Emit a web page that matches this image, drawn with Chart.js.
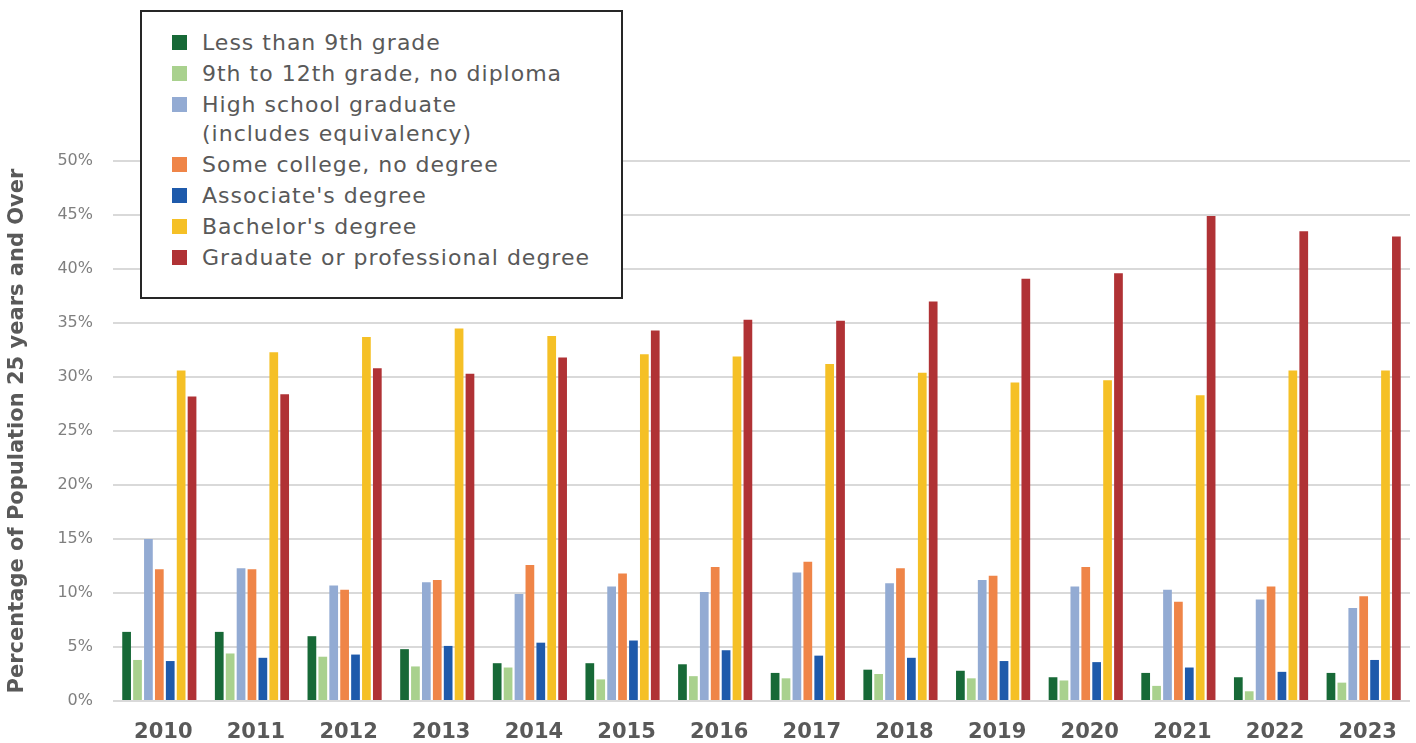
<!DOCTYPE html>
<html>
<head>
<meta charset="utf-8">
<script src="https://cdn.jsdelivr.net/npm/chart.js@4.4.1/dist/chart.umd.min.js"></script>
<style>
    body { margin: 0; background: #fff; }
    #wrap { position: relative; width: 1416px; height: 743px; }
    #legend {
        position: absolute; left: 140px; top: 10px; width: 479px; height: 285px;
        border: 2px solid #262626; background: #fff;
        font-family: "DejaVu Sans", sans-serif; font-size: 22px; letter-spacing: 1px; color: #595959;
        box-sizing: content-box;
    }
    #legend ul { list-style: none; margin: 0; padding: 16px 0 0 30px; }
    #legend li { display: flex; align-items: flex-start; line-height: 29px; margin-bottom: 2px; white-space: pre-line; }
    #legend .sw { width: 15px; height: 15px; margin: 7px 15px 0 0; flex: none; }
</style>
</head>
<body>
<div id="wrap">
    <canvas id="eduChart"></canvas>
    <div id="legend"><ul></ul></div>
</div>
<script>
// Data
const years = ['2010', '2011', '2012', '2013', '2014', '2015', '2016', '2017', '2018', '2019', '2020', '2021', '2022', '2023'];
const lessThan9th = [6.4, 6.4, 6.0, 4.8, 3.5, 3.5, 3.4, 2.6, 2.9, 2.8, 2.2, 2.6, 2.2, 2.6];
const grade9to12 = [3.8, 4.4, 4.1, 3.2, 3.1, 2.0, 2.3, 2.1, 2.5, 2.1, 1.9, 1.4, 0.9, 1.7];
const highSchool = [15.0, 12.3, 10.7, 11.0, 9.9, 10.6, 10.1, 11.9, 10.9, 11.2, 10.6, 10.3, 9.4, 8.6];
const someCollege = [12.2, 12.2, 10.3, 11.2, 12.6, 11.8, 12.4, 12.9, 12.3, 11.6, 12.4, 9.2, 10.6, 9.7];
const associate = [3.7, 4.0, 4.3, 5.1, 5.4, 5.6, 4.7, 4.2, 4.0, 3.7, 3.6, 3.1, 2.7, 3.8];
const bachelor = [30.6, 32.3, 33.7, 34.5, 33.8, 32.1, 31.9, 31.2, 30.4, 29.5, 29.7, 28.3, 30.6, 30.6];
const graduate = [28.2, 28.4, 30.8, 30.3, 31.8, 34.3, 35.3, 35.2, 37.0, 39.1, 39.6, 44.9, 43.5, 43.0];

const seriesLabels = [
    'Less than 9th grade',
    '9th to 12th grade, no diploma',
    'High school graduate\n(includes equivalency)',
    'Some college, no degree',
    "Associate's degree",
    "Bachelor's degree",
    'Graduate or professional degree'
];
const seriesColors = ['#176937', '#a9d18e', '#93abd3', '#ef8548', '#1e5aab', '#f5c026', '#b03235'];
const seriesData = [lessThan9th, grade9to12, highSchool, someCollege, associate, bachelor, graduate];

const datasets = seriesData.map((d, i) => ({
    label: seriesLabels[i],
    data: d,
    backgroundColor: seriesColors[i],
    borderWidth: 0,
    categoryPercentage: 0.824,
    barPercentage: 0.8
}));

// Legend (HTML so the two-line label wraps like the original)
const ul = document.querySelector('#legend ul');
seriesLabels.forEach((label, i) => {
    const li = document.createElement('li');
    li.innerHTML = `<span class="sw" style="background:${seriesColors[i]}"></span><span></span>`;
    li.lastChild.textContent = label;
    ul.appendChild(li);
});

const ctx = document.getElementById('eduChart').getContext('2d');
new Chart(ctx, {
    type: 'bar',
    data: { labels: years, datasets: datasets },
    options: {
        responsive: true,
        maintainAspectRatio: false,
        animation: false,
        layout: { padding: { top: 161, right: 6, left: 0, bottom: 0 } },
        plugins: {
            legend: { display: false },
            tooltip: { enabled: false }
        },
        scales: {
            x: {
                grid: { display: false },
                border: { display: false },
                ticks: {
                    color: '#595959',
                    padding: 11,
                    labelOffset: 4,
                    font: { family: 'DejaVu Sans', size: 21, weight: 'bold' }
                },
                afterFit: (scale) => { scale.height = 42; }
            },
            y: {
                min: 0,
                max: 50,
                border: { display: false },
                grid: { color: '#d9d9d9', lineWidth: 2, drawTicks: false },
                ticks: {
                    stepSize: 5,
                    color: '#7f7f7f',
                    padding: 20,
                    font: { family: 'DejaVu Sans', size: 16 },
                    callback: (v) => v + '%'
                },
                title: {
                    display: true,
                    text: 'Percentage of Population 25 years and Over',
                    color: '#595959',
                    padding: { top: 5, bottom: 0 },
                    font: { family: 'DejaVu Sans', size: 21, weight: 'bold' }
                },
                afterFit: (scale) => { scale.width = 113; }
            }
        }
    }
});
</script>
</body>
</html>
